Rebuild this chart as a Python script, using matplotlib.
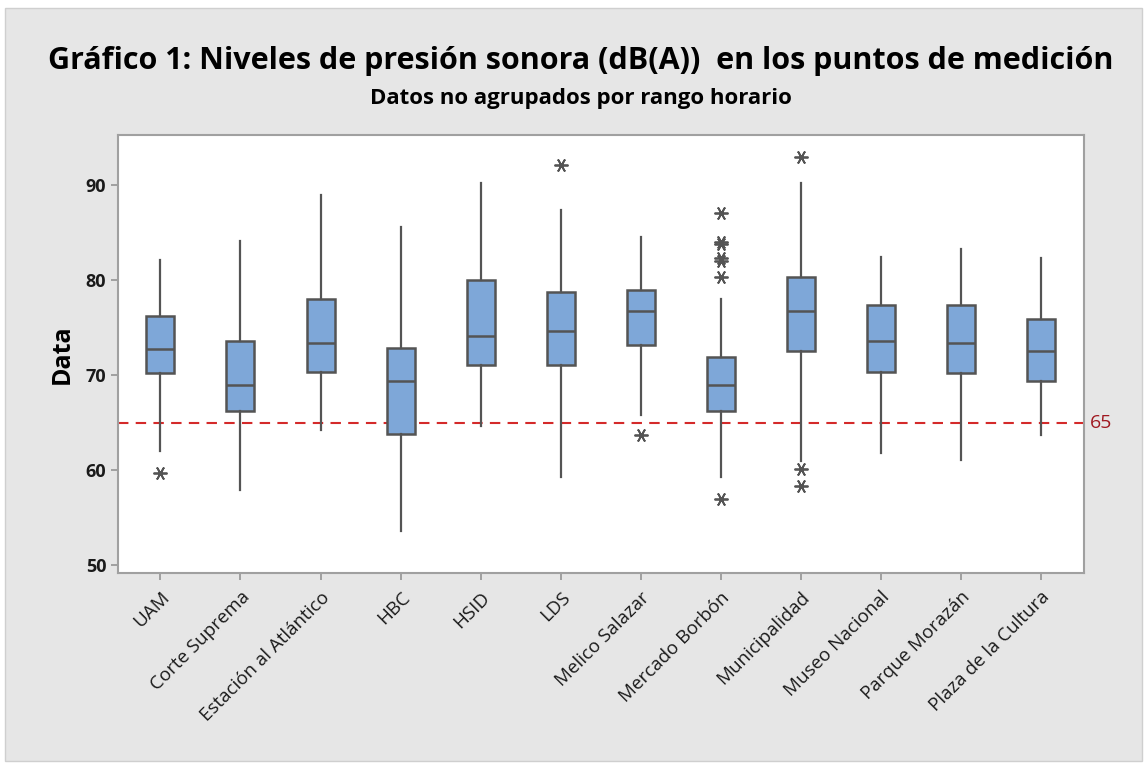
import matplotlib.pyplot as plt
from matplotlib.patches import Rectangle

plt.rcParams['font.family'] = ['Open Sans', 'DejaVu Sans']

# puntos de medición
puntos = ['UAM', 'Corte Suprema', 'Estación al Atlántico', 'HBC', 'HSID', 'LDS',
          'Melico Salazar', 'Mercado Borbón', 'Municipalidad', 'Museo Nacional',
          'Parque Morazán', 'Plaza de la Cultura']

# estadísticos (dB(A))
bigote_sup = [82.1, 84.1, 89.0, 85.6, 90.3, 87.4, 84.6, 78.0, 90.3, 82.5, 83.3, 82.4]
q3 = [76.3, 73.6, 78.0, 72.9, 80.0, 78.8, 79.0, 71.9, 80.4, 77.4, 77.4, 75.9]
mediana = [72.8, 69.0, 73.4, 69.4, 74.1, 74.7, 76.8, 69.0, 76.8, 73.6, 73.4, 72.6]
q1 = [70.2, 66.3, 70.4, 63.8, 71.1, 71.1, 73.2, 66.3, 72.6, 70.4, 70.2, 69.4]
bigote_inf = [62.0, 57.9, 64.3, 53.6, 64.7, 59.3, 65.8, 59.3, 61.0, 61.8, 61.1, 63.7]
atipicos = [
    [59.7],
    [],
    [],
    [],
    [],
    [92.1],
    [63.7],
    [87.1, 84.0, 83.8, 82.4, 82.0, 80.4, 57.0],
    [93.0, 60.1, 58.4],
    [],
    [],
    [],
]
limite = 65

stats = []
for i in range(len(puntos)):
    stats.append({'whislo': bigote_inf[i], 'q1': q1[i], 'med': mediana[i],
                  'q3': q3[i], 'whishi': bigote_sup[i], 'fliers': atipicos[i]})

fig = plt.figure(figsize=(11.45, 7.67), dpi=100)
fig.patch.set_facecolor('white')
fig.patches.append(Rectangle((0.004, 0.008), 0.993, 0.982, transform=fig.transFigure,
                             facecolor='#e6e6e6', edgecolor='#cfcfcf', linewidth=1,
                             zorder=-10))
ax = fig.add_axes([0.1031, 0.2529, 0.8436, 0.5711])
ax.set_facecolor('white')

borde = '#545454'
ax.bxp(stats, positions=range(len(puntos)), widths=0.35, patch_artist=True,
       showcaps=False,
       boxprops=dict(facecolor='#7ea7d8', edgecolor=borde, linewidth=1.8),
       medianprops=dict(color=borde, linewidth=1.8),
       whiskerprops=dict(color=borde, linewidth=1.6),
       flierprops=dict(marker=(6, 2, 90), markersize=10, markeredgecolor=borde,
                       markeredgewidth=1.3, markerfacecolor=borde))

ax.axhline(limite, color='#d42a2a', linestyle=(0, (5, 3.5)), linewidth=1.5, zorder=0.5)
ax.text(1.006, limite, str(limite), transform=ax.get_yaxis_transform(),
        color='#a01820', fontsize=14, va='center', ha='left')

ax.set_xlim(-0.53, 11.54)
ax.set_ylim(49.2, 95.3)
ax.set_yticks([50, 60, 70, 80, 90])
ax.set_xticks(range(len(puntos)))
ax.set_xticklabels(puntos, rotation=45, ha='right', rotation_mode='anchor', fontsize=13.5)
for t in ax.get_yticklabels():
    t.set_fontsize(13)
    t.set_fontweight('bold')
ax.tick_params(colors='#9a9a9a', length=5, width=1.3, labelcolor='#1a1a1a')
ax.tick_params(axis='x', pad=6)
for s in ax.spines.values():
    s.set_color('#a0a0a0')
    s.set_linewidth(1.5)

ax.set_ylabel('Data', fontsize=18, fontweight='bold', labelpad=8)

fig.text(0.507, 0.921, 'Gráfico 1: Niveles de presión sonora (dB(A))  en los puntos de medición',
         ha='center', va='center', fontsize=22, fontweight='bold')
fig.text(0.507, 0.872, 'Datos no agrupados por rango horario',
         ha='center', va='center', fontsize=16, fontweight='bold')

fig.savefig('out.png', dpi=100)
